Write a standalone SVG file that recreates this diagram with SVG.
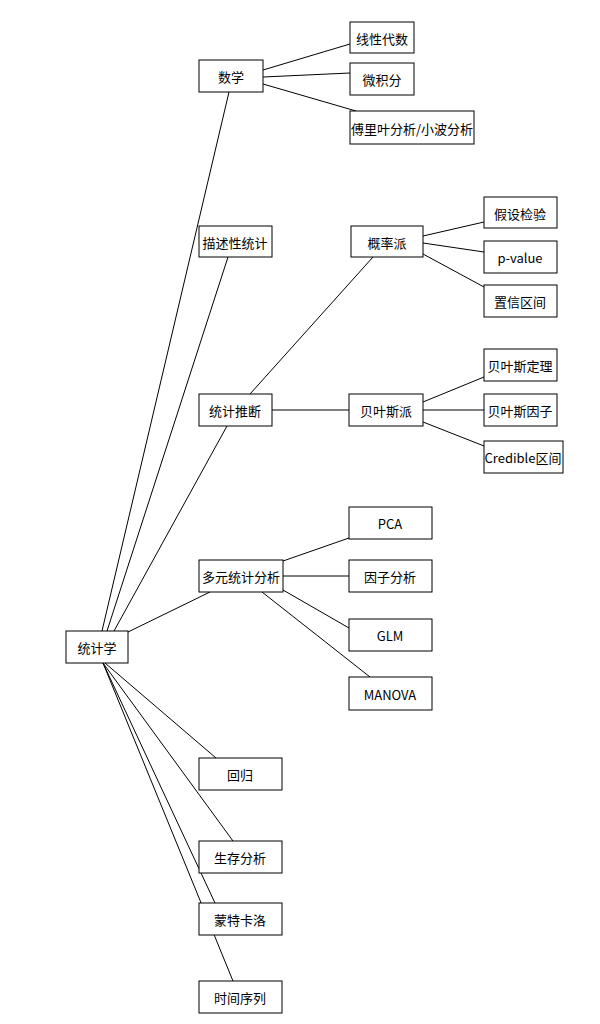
<svg xmlns="http://www.w3.org/2000/svg" width="600" height="1024" viewBox="0 0 600 1024">
<style>
rect{fill:#fff;stroke:#000;stroke-width:1}
text{font-family:"Noto Sans CJK SC","Liberation Sans",sans-serif;font-size:13px;text-anchor:middle;dominant-baseline:central;fill:#000}
line{stroke:#000;stroke-width:1}
</style>
<rect width="600" height="1024" style="fill:#fff;stroke:none"/>
<g id="connectors">
<line x1="102" y1="631" x2="229" y2="92"/>
<line x1="107" y1="631" x2="228" y2="257"/>
<line x1="114" y1="631" x2="227" y2="426"/>
<line x1="128" y1="632" x2="210" y2="592"/>
<line x1="105" y1="663" x2="216" y2="758"/>
<line x1="103" y1="663" x2="233" y2="841"/>
<line x1="103" y1="663" x2="215" y2="903"/>
<line x1="103" y1="663" x2="233" y2="981"/>
<line x1="263" y1="70" x2="350" y2="44"/>
<line x1="263" y1="77" x2="350" y2="73"/>
<line x1="263" y1="84" x2="356" y2="111"/>
<line x1="250" y1="394" x2="373" y2="257"/>
<line x1="272" y1="410" x2="349" y2="410"/>
<line x1="423" y1="236" x2="484" y2="222"/>
<line x1="423" y1="243" x2="484" y2="252"/>
<line x1="423" y1="254" x2="484" y2="287"/>
<line x1="423" y1="402" x2="484" y2="377"/>
<line x1="423" y1="410" x2="484" y2="410"/>
<line x1="423" y1="422" x2="484" y2="446"/>
<line x1="283" y1="561" x2="349" y2="538"/>
<line x1="283" y1="576" x2="349" y2="576"/>
<line x1="283" y1="590" x2="349" y2="628"/>
<line x1="262" y1="592" x2="370" y2="677"/>
</g>
<g id="n0"><rect x="66" y="631" width="62" height="32"/><text x="97" y="647">统计学</text></g>
<g id="n1"><rect x="199" y="60" width="64" height="32"/><text x="231" y="76">数学</text></g>
<g id="n2"><rect x="350" y="22" width="64" height="31"/><text x="382" y="38">线性代数</text></g>
<g id="n3"><rect x="350" y="63" width="64" height="32"/><text x="382" y="79">微积分</text></g>
<g id="n4"><rect x="350" y="111" width="124" height="33"/><text x="412" y="128">傅里叶分析/小波分析</text></g>
<g id="n5"><rect x="199" y="226" width="73" height="31"/><text x="235" y="242">描述性统计</text></g>
<g id="n6"><rect x="351" y="226" width="72" height="31"/><text x="387" y="242">概率派</text></g>
<g id="n7"><rect x="484" y="197" width="73" height="31"/><text x="520" y="213">假设检验</text></g>
<g id="n8"><rect x="484" y="241" width="73" height="32"/><text x="520" y="257">p-value</text></g>
<g id="n9"><rect x="484" y="285" width="73" height="32"/><text x="520" y="301">置信区间</text></g>
<g id="n10"><rect x="199" y="394" width="73" height="32"/><text x="235" y="410">统计推断</text></g>
<g id="n11"><rect x="349" y="394" width="74" height="32"/><text x="386" y="410">贝叶斯派</text></g>
<g id="n12"><rect x="484" y="349" width="73" height="32"/><text x="520" y="365">贝叶斯定理</text></g>
<g id="n13"><rect x="484" y="394" width="73" height="32"/><text x="520" y="410">贝叶斯因子</text></g>
<g id="n14"><rect x="484" y="441" width="79" height="32"/><text x="523" y="457">Credible区间</text></g>
<g id="n15"><rect x="199" y="560" width="84" height="32"/><text x="241" y="576">多元统计分析</text></g>
<g id="n16"><rect x="349" y="507" width="83" height="32"/><text x="390" y="523">PCA</text></g>
<g id="n17"><rect x="349" y="560" width="83" height="32"/><text x="390" y="576">因子分析</text></g>
<g id="n18"><rect x="349" y="619" width="83" height="32"/><text x="390" y="635">GLM</text></g>
<g id="n19"><rect x="349" y="677" width="83" height="33"/><text x="390" y="694">MANOVA</text></g>
<g id="n20"><rect x="199" y="758" width="83" height="32"/><text x="240" y="774">回归</text></g>
<g id="n21"><rect x="199" y="841" width="83" height="32"/><text x="240" y="857">生存分析</text></g>
<g id="n22"><rect x="199" y="903" width="83" height="32"/><text x="240" y="919">蒙特卡洛</text></g>
<g id="n23"><rect x="199" y="981" width="83" height="32"/><text x="240" y="997">时间序列</text></g>
</svg>
